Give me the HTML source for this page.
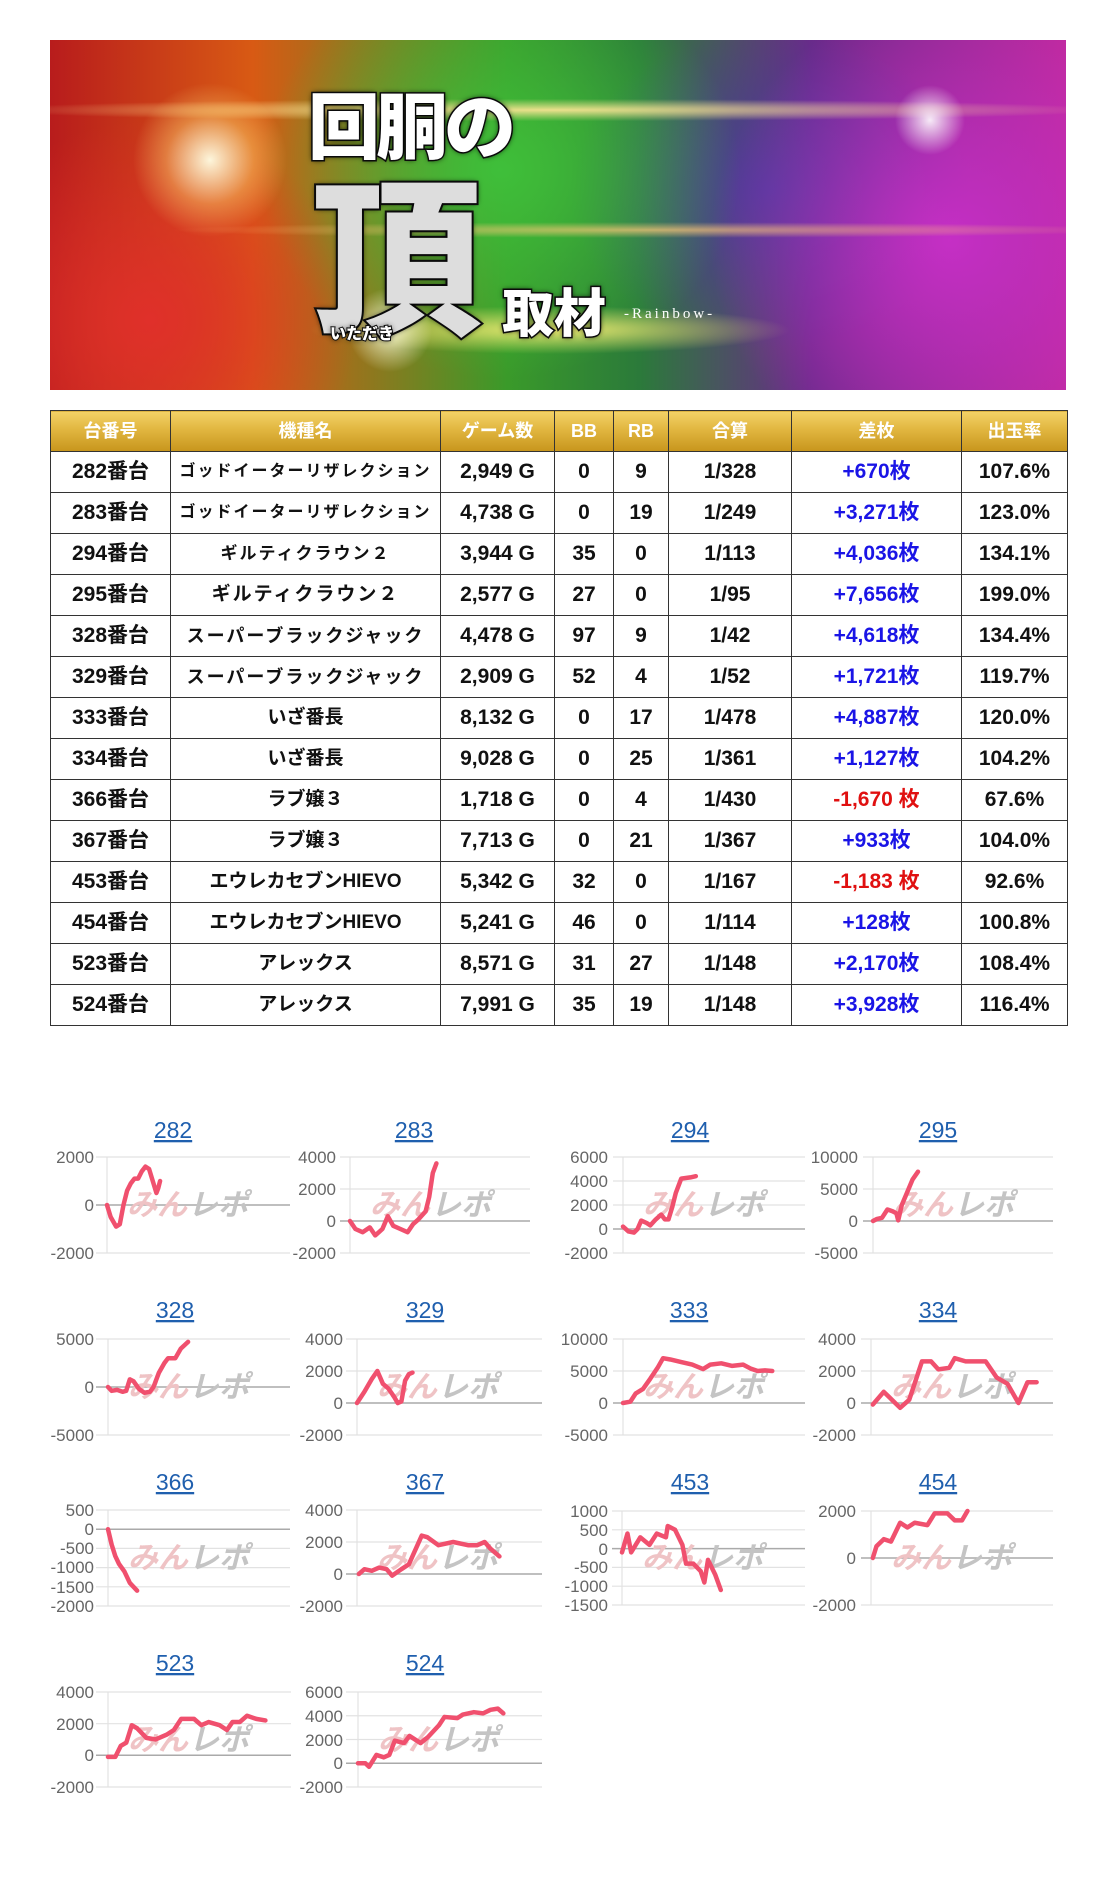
<!DOCTYPE html>
<html><head><meta charset="utf-8">
<style>
html,body{margin:0;padding:0;background:#fff;}
body{width:1115px;height:1887px;position:relative;overflow:hidden;font-family:"Liberation Sans","Noto Sans CJK JP",sans-serif;}
#banner{position:absolute;left:50px;top:40px;width:1016px;height:350px;overflow:hidden;
background:
radial-gradient(ellipse 110px 110px at 160px 120px,rgba(255,255,230,.95),rgba(255,220,120,.4) 40%,rgba(255,200,0,0) 70%),
radial-gradient(ellipse 60px 60px at 340px 290px,rgba(255,255,220,.9),rgba(255,220,0,0) 70%),
radial-gradient(ellipse 50px 50px at 880px 80px,rgba(255,255,255,.9),rgba(255,255,255,0) 70%),
radial-gradient(ellipse 300px 30px at 500px 290px,rgba(255,240,120,.9),rgba(255,200,0,0) 80%),
radial-gradient(ellipse 700px 14px at 500px 70px,rgba(255,230,150,.9),rgba(255,200,0,0) 80%),
radial-gradient(ellipse 600px 10px at 600px 190px,rgba(255,200,120,.7),rgba(255,200,0,0) 80%),
radial-gradient(ellipse 260px 250px at 100px 280px,#e0302a,rgba(200,20,40,0) 80%),
radial-gradient(ellipse 300px 260px at 450px 130px,#3fbf3a,rgba(40,160,40,0) 80%),
radial-gradient(ellipse 300px 300px at 900px 200px,#c52fc5,rgba(160,30,160,0) 80%),
radial-gradient(ellipse 250px 200px at 720px 150px,#4a3a9a,rgba(60,40,140,0) 80%),
linear-gradient(90deg,#b81c1c 0%,#d85a14 20%,#3a9a2a 45%,#2b7a3a 58%,#6a2a8a 75%,#c02aa0 100%);}
.t{position:absolute;font-family:"Noto Sans CJK JP",sans-serif;font-weight:900;color:#fff;
-webkit-text-stroke:3px #111;paint-order:stroke fill;text-shadow:0 0 6px #000;}
table{position:absolute;left:50px;top:410px;border-collapse:collapse;width:1017px;table-layout:fixed;}
td,th{border:1px solid #333;text-align:center;padding:0;white-space:nowrap;overflow:hidden;vertical-align:middle;}
th{height:40px;line-height:40px;color:#fff;font-size:18px;font-weight:bold;background:linear-gradient(180deg,#f3d267 0%,#e1b640 45%,#c7951c 100%);}
td{height:40px;line-height:40px;font-size:21px;font-weight:bold;color:#111;}
td.n{font-size:16px;letter-spacing:2px;}
td.n2{font-size:19px;}
.p{color:#1a14e6;}
.m{color:#e01010;}
</style></head><body>
<div id="banner">
<div class="t" style="left:258px;top:38px;font-size:72px;line-height:88px;letter-spacing:-4px;">回胴の</div>
<div class="t" style="left:262px;top:118px;font-size:170px;line-height:180px;color:#ddd;-webkit-text-stroke:4px #111;">頂</div>
<div class="t" style="left:452px;top:238px;font-size:52px;line-height:64px;">取材</div>
<div style="position:absolute;left:574px;top:266px;font-family:'Liberation Serif',serif;font-size:15px;letter-spacing:3px;color:#fff;">-Rainbow-</div>
<div class="t" style="left:280px;top:280px;font-size:16px;-webkit-text-stroke:2px #111;">いただき</div>
</div>
<table>
<colgroup><col style="width:120px"><col style="width:270px"><col style="width:114px"><col style="width:59px"><col style="width:55px"><col style="width:123px"><col style="width:170px"><col style="width:106px"></colgroup>
<tr><th>台番号</th><th>機種名</th><th>ゲーム数</th><th>BB</th><th>RB</th><th>合算</th><th>差枚</th><th>出玉率</th></tr>
<tr><td>282番台</td><td class="n">ゴッドイーターリザレクション</td><td>2,949 G</td><td>0</td><td>9</td><td>1/328</td><td class="p">+670枚</td><td>107.6%</td></tr>
<tr><td>283番台</td><td class="n">ゴッドイーターリザレクション</td><td>4,738 G</td><td>0</td><td>19</td><td>1/249</td><td class="p">+3,271枚</td><td>123.0%</td></tr>
<tr><td>294番台</td><td class="n2" style="font-size:17px;letter-spacing:2px">ギルティクラウン２</td><td>3,944 G</td><td>35</td><td>0</td><td>1/113</td><td class="p">+4,036枚</td><td>134.1%</td></tr>
<tr><td>295番台</td><td class="n2" style="letter-spacing:2px">ギルティクラウン２</td><td>2,577 G</td><td>27</td><td>0</td><td>1/95</td><td class="p">+7,656枚</td><td>199.0%</td></tr>
<tr><td>328番台</td><td class="n" style="font-size:18px">スーパーブラックジャック</td><td>4,478 G</td><td>97</td><td>9</td><td>1/42</td><td class="p">+4,618枚</td><td>134.4%</td></tr>
<tr><td>329番台</td><td class="n" style="font-size:18px">スーパーブラックジャック</td><td>2,909 G</td><td>52</td><td>4</td><td>1/52</td><td class="p">+1,721枚</td><td>119.7%</td></tr>
<tr><td>333番台</td><td class="n2">いざ番長</td><td>8,132 G</td><td>0</td><td>17</td><td>1/478</td><td class="p">+4,887枚</td><td>120.0%</td></tr>
<tr><td>334番台</td><td class="n2">いざ番長</td><td>9,028 G</td><td>0</td><td>25</td><td>1/361</td><td class="p">+1,127枚</td><td>104.2%</td></tr>
<tr><td>366番台</td><td class="n2">ラブ嬢３</td><td>1,718 G</td><td>0</td><td>4</td><td>1/430</td><td class="m">-1,670 枚</td><td>67.6%</td></tr>
<tr><td>367番台</td><td class="n2">ラブ嬢３</td><td>7,713 G</td><td>0</td><td>21</td><td>1/367</td><td class="p">+933枚</td><td>104.0%</td></tr>
<tr><td>453番台</td><td class="n2">エウレカセブンHIEVO</td><td>5,342 G</td><td>32</td><td>0</td><td>1/167</td><td class="m">-1,183 枚</td><td>92.6%</td></tr>
<tr><td>454番台</td><td class="n2">エウレカセブンHIEVO</td><td>5,241 G</td><td>46</td><td>0</td><td>1/114</td><td class="p">+128枚</td><td>100.8%</td></tr>
<tr><td>523番台</td><td class="n2">アレックス</td><td>8,571 G</td><td>31</td><td>27</td><td>1/148</td><td class="p">+2,170枚</td><td>108.4%</td></tr>
<tr><td>524番台</td><td class="n2">アレックス</td><td>7,991 G</td><td>35</td><td>19</td><td>1/148</td><td class="p">+3,928枚</td><td>116.4%</td></tr>
</table>

<svg style="position:absolute;left:0;top:0" width="1115" height="1887" font-family="Liberation Sans, sans-serif">
<style>
.g{stroke:#e2e2e2;stroke-width:1.2}
.z{stroke:#aaa;stroke-width:1.5}
.ax{stroke:#e2e2e2;stroke-width:1.2}
.lb{fill:#666;font-size:17px;text-anchor:end}
.ttl{fill:#1f5fae;font-size:23px;text-anchor:middle;text-decoration:underline}
.ln{fill:none;stroke:#f0506e;stroke-width:4.5;stroke-linejoin:round;stroke-linecap:round;vector-effect:non-scaling-stroke}
.wm1{fill:#efc3c5;font-size:30px;font-weight:bold;font-style:italic;font-family:"Noto Sans CJK JP",sans-serif}
.wm2{fill:#c4c4c4;font-size:30px;font-weight:bold;font-style:italic;font-family:"Noto Sans CJK JP",sans-serif}
</style>

<text class="ttl" x="173" y="1138">282</text>
<line class="ax" x1="107" y1="1157" x2="107" y2="1253"/>
<line class="g" x1="96" y1="1157" x2="290" y2="1157"/><line class="z" x1="96" y1="1205" x2="290" y2="1205"/><line class="g" x1="96" y1="1253" x2="290" y2="1253"/>
<text class="lb" x="94" y="1163">2000</text><text class="lb" x="94" y="1211">0</text><text class="lb" x="94" y="1259">-2000</text>
<text class="wm1" x="127" y="1215">みん</text><text class="wm2" x="188" y="1215">レポ</text>
<g transform="translate(107,1205) scale(1.83,-0.024)"><polyline class="ln" points="0,0 2,-500 5,-900 7,-800 9,0 11,600 13,900 15,1100 17,1100 19,1400 21,1600 23,1500 25,1000 27,500 28,700 29,1000"/></g>

<text class="ttl" x="414" y="1138">283</text>
<line class="ax" x1="350" y1="1157" x2="350" y2="1253"/>
<line class="g" x1="340" y1="1157" x2="530" y2="1157"/><line class="g" x1="340" y1="1189" x2="530" y2="1189"/><line class="z" x1="340" y1="1221" x2="530" y2="1221"/><line class="g" x1="340" y1="1253" x2="530" y2="1253"/>
<text class="lb" x="336" y="1163">4000</text><text class="lb" x="336" y="1195">2000</text><text class="lb" x="336" y="1227">0</text><text class="lb" x="336" y="1259">-2000</text>
<text class="wm1" x="370" y="1215">みん</text><text class="wm2" x="431" y="1215">レポ</text>
<g transform="translate(350,1221) scale(1.8,-0.016)"><polyline class="ln" points="0,0 3,-500 7,-700 11,-400 14,-900 18,-500 21,300 24,-300 28,-500 32,-700 35,-200 38,100 42,600 44,1500 46,3000 48,3600"/></g>

<text class="ttl" x="690" y="1138">294</text>
<line class="ax" x1="623" y1="1157" x2="623" y2="1253"/>
<line class="g" x1="613" y1="1157" x2="805" y2="1157"/><line class="g" x1="613" y1="1181" x2="805" y2="1181"/><line class="g" x1="613" y1="1205" x2="805" y2="1205"/><line class="z" x1="613" y1="1229" x2="805" y2="1229"/><line class="g" x1="613" y1="1253" x2="805" y2="1253"/>
<text class="lb" x="608" y="1163">6000</text><text class="lb" x="608" y="1187">4000</text><text class="lb" x="608" y="1211">2000</text><text class="lb" x="608" y="1235">0</text><text class="lb" x="608" y="1259">-2000</text>
<text class="wm1" x="643" y="1215">みん</text><text class="wm2" x="704" y="1215">レポ</text>
<g transform="translate(623,1229) scale(1.82,-0.012)"><polyline class="ln" points="0,200 3,-200 6,-300 8,0 10,700 13,500 15,300 18,800 21,1200 23,800 25,800 27,1800 29,3000 32,4200 37,4300 40,4400"/></g>

<text class="ttl" x="938" y="1138">295</text>
<line class="ax" x1="873" y1="1157" x2="873" y2="1253"/>
<line class="g" x1="863" y1="1157" x2="1053" y2="1157"/><line class="g" x1="863" y1="1189" x2="1053" y2="1189"/><line class="z" x1="863" y1="1221" x2="1053" y2="1221"/><line class="g" x1="863" y1="1253" x2="1053" y2="1253"/>
<text class="lb" x="858" y="1163">10000</text><text class="lb" x="858" y="1195">5000</text><text class="lb" x="858" y="1227">0</text><text class="lb" x="858" y="1259">-5000</text>
<text class="wm1" x="893" y="1215">みん</text><text class="wm2" x="954" y="1215">レポ</text>
<g transform="translate(873,1221) scale(1.8,-0.0064)"><polyline class="ln" points="0,0 2,300 5,500 8,1800 11,1500 13,1200 14,100 16,2500 19,4500 22,6500 25,7700"/></g>

<text class="ttl" x="175" y="1318">328</text>
<line class="ax" x1="108" y1="1339" x2="108" y2="1435"/>
<line class="g" x1="96" y1="1339" x2="290" y2="1339"/><line class="z" x1="96" y1="1387" x2="290" y2="1387"/><line class="g" x1="96" y1="1435" x2="290" y2="1435"/>
<text class="lb" x="94" y="1345">5000</text><text class="lb" x="94" y="1393">0</text><text class="lb" x="94" y="1441">-5000</text>
<text class="wm1" x="128" y="1397">みん</text><text class="wm2" x="189" y="1397">レポ</text>
<g transform="translate(108,1387) scale(1.82,-0.0096)"><polyline class="ln" points="0,0 2,-400 5,-300 8,-500 10,-400 12,800 14,600 17,-200 20,-600 23,-500 25,0 28,1500 31,2500 33,3000 37,3000 40,4000 44,4700"/></g>

<text class="ttl" x="425" y="1318">329</text>
<line class="ax" x1="357" y1="1339" x2="357" y2="1435"/>
<line class="g" x1="346" y1="1339" x2="542" y2="1339"/><line class="g" x1="346" y1="1371" x2="542" y2="1371"/><line class="z" x1="346" y1="1403" x2="542" y2="1403"/><line class="g" x1="346" y1="1435" x2="542" y2="1435"/>
<text class="lb" x="343" y="1345">4000</text><text class="lb" x="343" y="1377">2000</text><text class="lb" x="343" y="1409">0</text><text class="lb" x="343" y="1441">-2000</text>
<text class="wm1" x="377" y="1397">みん</text><text class="wm2" x="438" y="1397">レポ</text>
<g transform="translate(357,1403) scale(1.85,-0.016)"><polyline class="ln" points="0,0 4,700 8,1500 11,2000 14,1200 17,900 20,400 22,0 24,100 26,1400 28,1800 30,1900"/></g>

<text class="ttl" x="689" y="1318">333</text>
<line class="ax" x1="623" y1="1339" x2="623" y2="1435"/>
<line class="g" x1="613" y1="1339" x2="805" y2="1339"/><line class="g" x1="613" y1="1371" x2="805" y2="1371"/><line class="z" x1="613" y1="1403" x2="805" y2="1403"/><line class="g" x1="613" y1="1435" x2="805" y2="1435"/>
<text class="lb" x="608" y="1345">10000</text><text class="lb" x="608" y="1377">5000</text><text class="lb" x="608" y="1409">0</text><text class="lb" x="608" y="1441">-5000</text>
<text class="wm1" x="643" y="1397">みん</text><text class="wm2" x="704" y="1397">レポ</text>
<g transform="translate(623,1403) scale(1.82,-0.0064)"><polyline class="ln" points="0,0 4,200 7,1500 11,2200 15,3800 19,5500 22,7000 26,6800 32,6400 38,6000 44,5300 48,6000 54,6200 60,5800 66,6000 70,5400 74,5000 78,5100 82,5000"/></g>

<text class="ttl" x="938" y="1318">334</text>
<line class="ax" x1="871" y1="1339" x2="871" y2="1435"/>
<line class="g" x1="861" y1="1339" x2="1053" y2="1339"/><line class="g" x1="861" y1="1371" x2="1053" y2="1371"/><line class="z" x1="861" y1="1403" x2="1053" y2="1403"/><line class="g" x1="861" y1="1435" x2="1053" y2="1435"/>
<text class="lb" x="856" y="1345">4000</text><text class="lb" x="856" y="1377">2000</text><text class="lb" x="856" y="1409">0</text><text class="lb" x="856" y="1441">-2000</text>
<text class="wm1" x="891" y="1397">みん</text><text class="wm2" x="952" y="1397">レポ</text>
<g transform="translate(871,1403) scale(1.82,-0.016)"><polyline class="ln" points="1,-100 7,700 16,-300 21,200 28,2600 33,2600 37,2100 43,2200 46,2800 52,2600 63,2600 69,1600 75,1200 81,0 86,1300 91,1300"/></g>

<text class="ttl" x="175" y="1490">366</text>
<line class="ax" x1="108" y1="1510" x2="108" y2="1606"/>
<line class="g" x1="96" y1="1510" x2="290" y2="1510"/><line class="z" x1="96" y1="1529.2" x2="290" y2="1529.2"/><line class="g" x1="96" y1="1548.4" x2="290" y2="1548.4"/><line class="g" x1="96" y1="1567.6" x2="290" y2="1567.6"/><line class="g" x1="96" y1="1586.8" x2="290" y2="1586.8"/><line class="g" x1="96" y1="1606" x2="290" y2="1606"/>
<text class="lb" x="94" y="1516">500</text><text class="lb" x="94" y="1535">0</text><text class="lb" x="94" y="1554">-500</text><text class="lb" x="94" y="1573">-1000</text><text class="lb" x="94" y="1593">-1500</text><text class="lb" x="94" y="1612">-2000</text>
<text class="wm1" x="128" y="1568">みん</text><text class="wm2" x="189" y="1568">レポ</text>
<g transform="translate(108,1529.2) scale(1.82,-0.0384)"><polyline class="ln" points="0,0 2,-400 4,-700 6,-900 9,-1100 12,-1400 16,-1600"/></g>

<text class="ttl" x="425" y="1490">367</text>
<line class="ax" x1="357" y1="1510" x2="357" y2="1606"/>
<line class="g" x1="346" y1="1510" x2="542" y2="1510"/><line class="g" x1="346" y1="1542" x2="542" y2="1542"/><line class="z" x1="346" y1="1574" x2="542" y2="1574"/><line class="g" x1="346" y1="1606" x2="542" y2="1606"/>
<text class="lb" x="343" y="1516">4000</text><text class="lb" x="343" y="1548">2000</text><text class="lb" x="343" y="1580">0</text><text class="lb" x="343" y="1612">-2000</text>
<text class="wm1" x="377" y="1568">みん</text><text class="wm2" x="438" y="1568">レポ</text>
<g transform="translate(357,1574) scale(1.85,-0.016)"><polyline class="ln" points="1,0 4,300 8,200 12,400 16,300 19,-100 24,300 28,600 35,2400 38,2300 44,1800 52,2000 60,1800 65,1800 69,2000 72,1600 77,1100"/></g>

<text class="ttl" x="690" y="1490">453</text>
<line class="ax" x1="622" y1="1511" x2="622" y2="1605"/>
<line class="g" x1="612" y1="1511" x2="805" y2="1511"/><line class="g" x1="612" y1="1529.8" x2="805" y2="1529.8"/><line class="z" x1="612" y1="1548.6" x2="805" y2="1548.6"/><line class="g" x1="612" y1="1567.4" x2="805" y2="1567.4"/><line class="g" x1="612" y1="1586.2" x2="805" y2="1586.2"/><line class="g" x1="612" y1="1605" x2="805" y2="1605"/>
<text class="lb" x="608" y="1517">1000</text><text class="lb" x="608" y="1536">500</text><text class="lb" x="608" y="1555">0</text><text class="lb" x="608" y="1573">-500</text><text class="lb" x="608" y="1592">-1000</text><text class="lb" x="608" y="1611">-1500</text>
<text class="wm1" x="642" y="1568">みん</text><text class="wm2" x="703" y="1568">レポ</text>
<g transform="translate(622,1548.6) scale(1.83,-0.0376)"><polyline class="ln" points="0,-100 3,400 5,-100 10,300 15,100 19,400 24,300 25,600 29,500 33,100 35,-400 39,-400 43,-600 45,-900 47,-300 51,-700 54,-1100"/></g>

<text class="ttl" x="938" y="1490">454</text>
<line class="ax" x1="871" y1="1511" x2="871" y2="1605"/>
<line class="g" x1="861" y1="1511" x2="1053" y2="1511"/><line class="z" x1="861" y1="1558" x2="1053" y2="1558"/><line class="g" x1="861" y1="1605" x2="1053" y2="1605"/>
<text class="lb" x="856" y="1517">2000</text><text class="lb" x="856" y="1564">0</text><text class="lb" x="856" y="1611">-2000</text>
<text class="wm1" x="891" y="1568">みん</text><text class="wm2" x="952" y="1568">レポ</text>
<g transform="translate(871,1558) scale(1.82,-0.0235)"><polyline class="ln" points="1,0 3,500 7,800 11,700 16,1500 20,1300 24,1500 31,1400 35,1900 42,1900 46,1600 50,1600 53,2000"/></g>

<text class="ttl" x="175" y="1671">523</text>
<line class="ax" x1="108" y1="1692" x2="108" y2="1787"/>
<line class="g" x1="96" y1="1692" x2="291" y2="1692"/><line class="g" x1="96" y1="1723.7" x2="291" y2="1723.7"/><line class="z" x1="96" y1="1755.3" x2="291" y2="1755.3"/><line class="g" x1="96" y1="1787" x2="291" y2="1787"/>
<text class="lb" x="94" y="1698">4000</text><text class="lb" x="94" y="1730">2000</text><text class="lb" x="94" y="1761">0</text><text class="lb" x="94" y="1793">-2000</text>
<text class="wm1" x="128" y="1750">みん</text><text class="wm2" x="189" y="1750">レポ</text>
<g transform="translate(108,1755.3) scale(1.83,-0.015833)"><polyline class="ln" points="0,-100 4,-100 7,600 10,800 13,1900 16,1700 21,1100 26,1000 32,1300 36,1600 40,2300 47,2300 51,1900 55,2100 61,1900 65,1600 68,2100 72,2100 76,2500 81,2300 86,2200"/></g>

<text class="ttl" x="425" y="1671">524</text>
<line class="ax" x1="358" y1="1692" x2="358" y2="1787"/>
<line class="g" x1="346" y1="1692" x2="542" y2="1692"/><line class="g" x1="346" y1="1715.75" x2="542" y2="1715.75"/><line class="g" x1="346" y1="1739.5" x2="542" y2="1739.5"/><line class="z" x1="346" y1="1763.25" x2="542" y2="1763.25"/><line class="g" x1="346" y1="1787" x2="542" y2="1787"/>
<text class="lb" x="343" y="1698">6000</text><text class="lb" x="343" y="1722">4000</text><text class="lb" x="343" y="1746">2000</text><text class="lb" x="343" y="1769">0</text><text class="lb" x="343" y="1793">-2000</text>
<text class="wm1" x="378" y="1750">みん</text><text class="wm2" x="439" y="1750">レポ</text>
<g transform="translate(358,1763.25) scale(1.84,-0.011875)"><polyline class="ln" points="0,0 4,0 6,-300 10,700 14,500 17,700 20,1900 25,1700 28,2300 34,1700 38,2200 44,3200 47,3900 54,3800 57,4100 63,4300 68,4200 72,4500 76,4600 79,4200"/></g>
</svg>
</body></html>
